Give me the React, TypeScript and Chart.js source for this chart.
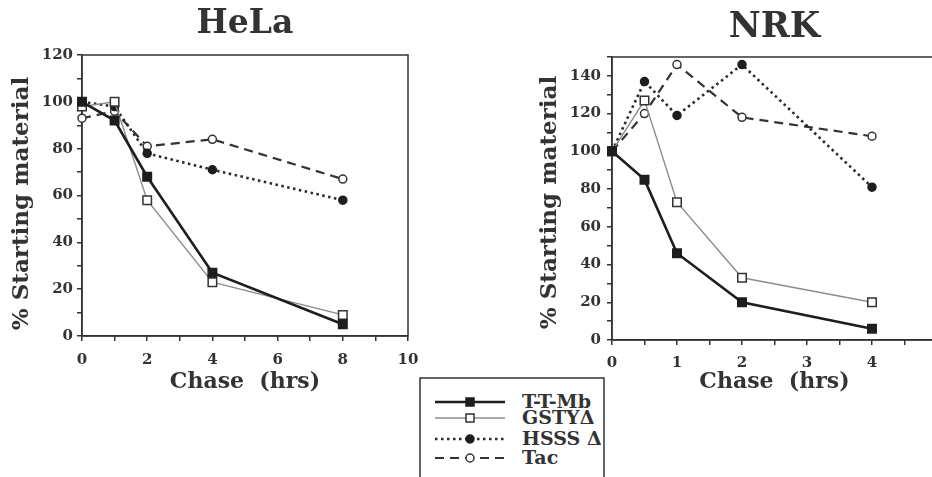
import React, { useEffect, useRef } from 'react';
import { Chart, registerables } from 'chart.js';

Chart.register(...registerables);

const SERIES_NAMES = ['T-T-Mb', 'GSTYΔ', 'HSSS Δ', 'Tac'];

const HELA_HOURS = [0, 1, 2, 4, 8];
const HELA_TTMB = [100, 92, 68, 27, 5];
const HELA_GSTY = [98, 100, 58, 23, 9];
const HELA_HSSS = [100, 98, 78, 71, 58];
const HELA_TAC = [93, 96, 81, 84, 67];

const NRK_HOURS = [0, 0.5, 1, 2, 4];
const NRK_TTMB = [100, 85, 46, 20, 6];
const NRK_GSTY = [100, 127, 73, 33, 20];
const NRK_HSSS = [100, 137, 119, 146, 81];
const NRK_TAC = [100, 120, 146, 118, 108];

const FONT = '"DejaVu Serif", "Liberation Serif", serif';
const INK = '#333';

const STYLES = [
  { color: '#1e1e1e', width: 2.6, dash: [] as number[], point: 'rect', radius: 6, fill: '#1e1e1e', pborder: '#1e1e1e' },
  { color: '#8c8c8c', width: 1.4, dash: [] as number[], point: 'rect', radius: 6, fill: '#ffffff', pborder: '#333' },
  { color: '#2a2a2a', width: 2.6, dash: [2.5, 3.5], point: 'circle', radius: 4, fill: '#1e1e1e', pborder: '#1e1e1e' },
  { color: '#333', width: 2.2, dash: [9, 6], point: 'circle', radius: 4, fill: '#ffffff', pborder: '#333' },
];

const framePlugin = {
  id: 'frame',
  beforeDatasetsDraw(chart: any) {
    const { ctx, chartArea: a } = chart;
    ctx.save();
    ctx.strokeStyle = INK;
    ctx.lineWidth = 1.5;
    ctx.strokeRect(a.left, a.top, a.right - a.left, a.bottom - a.top);
    ctx.restore();
  },
};

function buildDatasets(hours: number[], series: number[][]) {
  return series.map((vals, i) => {
    const s = STYLES[i];
    return {
      label: SERIES_NAMES[i],
      data: vals.map((v, j) => ({ x: hours[j], y: v })),
      borderColor: s.color,
      borderWidth: s.width,
      borderDash: s.dash,
      pointStyle: s.point,
      pointRadius: s.radius,
      pointBackgroundColor: s.fill,
      pointBorderColor: s.pborder,
      pointBorderWidth: 1.5,
      tension: 0,
      clip: false,
    };
  });
}

type Cfg = {
  title: string;
  titleSize: number;
  titlePad: { top: number; bottom: number };
  hours: number[];
  series: number[][];
  xMax: number;
  xStep: number;
  xLabel: (v: number) => string;
  yMax: number;
  yLabel: (v: number) => string;
  yWidth: number;
  xHeight: number;
  rightPad: number;
  yTitle: string;
  yTitlePad: number;
  xTitlePad: number;
  xTickPad: number;
  yTickPad: number;
};

function makeConfig(c: Cfg): any {
  return {
    type: 'line',
    data: { datasets: buildDatasets(c.hours, c.series) },
    plugins: [framePlugin],
    options: {
      responsive: false,
      animation: false,
      layout: { padding: { top: 0, left: 0, bottom: 0, right: c.rightPad } },
      plugins: {
        legend: { display: false },
        tooltip: { enabled: false },
        title: {
          display: true,
          text: c.title,
          fullSize: false,
          color: INK,
          font: { family: FONT, size: c.titleSize, weight: 'bold', lineHeight: 1 },
          padding: c.titlePad,
        },
      },
      scales: {
        x: {
          type: 'linear',
          min: 0,
          max: c.xMax,
          ticks: {
            stepSize: c.xStep,
            autoSkip: false,
            maxRotation: 0,
            padding: c.xTickPad,
            color: INK,
            font: { family: FONT, size: 15, weight: 'bold' },
            callback: (v: any) => c.xLabel(Number(v)),
          },
          grid: { drawOnChartArea: false, tickLength: 5, color: INK, lineWidth: 1.5 },
          border: { display: true, color: INK, width: 1.5 },
          title: {
            display: true,
            text: 'Chase  (hrs)',
            color: INK,
            font: { family: FONT, size: 22, weight: 'bold', lineHeight: 1.2 },
            padding: { top: 0, bottom: c.xTitlePad },
          },
          afterFit: (s: any) => { s.height = c.xHeight; },
        },
        y: {
          type: 'linear',
          min: 0,
          max: c.yMax,
          ticks: {
            stepSize: 10,
            autoSkip: false,
            padding: c.yTickPad,
            color: INK,
            font: { family: FONT, size: 15, weight: 'bold' },
            callback: (v: any) => c.yLabel(Number(v)),
          },
          grid: { drawOnChartArea: false, tickLength: 5, color: INK, lineWidth: 1.5 },
          border: { display: true, color: INK, width: 1.5 },
          title: {
            display: true,
            text: c.yTitle,
            color: INK,
            font: { family: FONT, size: 23, weight: 'bold', lineHeight: 1.2 },
            padding: { top: c.yTitlePad, bottom: 0 },
          },
          afterFit: (s: any) => { s.width = c.yWidth; },
        },
      },
    },
  };
}

function ChartCanvas({ cfg, left, width, height }: { cfg: Cfg; left: number; width: number; height: number }) {
  const ref = useRef<HTMLCanvasElement | null>(null);
  useEffect(() => {
    if (!ref.current) return;
    const chart = new Chart(ref.current, makeConfig(cfg));
    return () => chart.destroy();
  }, []);
  return (
    <canvas
      ref={ref}
      width={width}
      height={height}
      style={{ position: 'absolute', left, top: 0, width, height }}
    />
  );
}

const helaCfg: Cfg = {
  title: 'HeLa',
  titleSize: 33,
  titlePad: { top: 8, bottom: 14 },
  hours: HELA_HOURS,
  series: [HELA_TTMB, HELA_GSTY, HELA_HSSS, HELA_TAC],
  xMax: 10,
  xStep: 1,
  xLabel: (v) => (v % 2 === 0 ? String(v) : ''),
  yMax: 120,
  yLabel: (v) => (v % 20 === 0 ? String(v) : ''),
  yWidth: 82,
  xHeight: 64,
  rightPad: 32,
  yTitle: '% Starting material  ',
  yTitlePad: 8,
  xTitlePad: 5,
  xTickPad: 10,
  yTickPad: 4,
};

const nrkCfg: Cfg = {
  title: 'NRK',
  titleSize: 35,
  titlePad: { top: 10, bottom: 12 },
  hours: NRK_HOURS,
  series: [NRK_TTMB, NRK_GSTY, NRK_HSSS, NRK_TAC],
  xMax: 5,
  xStep: 0.5,
  xLabel: (v) => (Number.isInteger(v) ? String(v) : ''),
  yMax: 150,
  yLabel: (v) => (v % 20 === 0 && v <= 140 ? String(v) : ''),
  yWidth: 92,
  xHeight: 60,
  rightPad: 33,
  yTitle: '% Starting material ',
  yTitlePad: 16,
  xTitlePad: 5,
  xTickPad: 9,
  yTickPad: 6,
};

function Legend() {
  const rows = [25, 41, 62, 81];
  return (
    <svg
      width={186}
      height={110}
      style={{ position: 'absolute', left: 419, top: 377 }}
    >
      <rect x={1} y={1} width={184} height={130} fill="#fff" stroke={INK} strokeWidth={1.5} />
      {SERIES_NAMES.map((name, i) => {
        const s = STYLES[i];
        const y = rows[i];
        return (
          <g key={name}>
            <line
              x1={16}
              x2={86}
              y1={y}
              y2={y}
              stroke={s.color}
              strokeWidth={s.width}
              strokeDasharray={s.dash.length ? s.dash.join(' ') : undefined}
            />
            {s.point === 'rect' ? (
              <rect x={47} y={y - 4} width={8} height={8} fill={s.fill} stroke={s.pborder} strokeWidth={1.5} />
            ) : (
              <circle cx={51} cy={y} r={4} fill={s.fill} stroke={s.pborder} strokeWidth={1.5} />
            )}
            <text
              x={103}
              y={y + 6}
              fontFamily={FONT}
              fontWeight="bold"
              fontSize={19}
              fill={INK}
            >
              {name}
            </text>
          </g>
        );
      })}
    </svg>
  );
}

export default function App() {
  return (
    <div
      style={{
        position: 'fixed',
        left: 0,
        top: 0,
        width: 932,
        height: 477,
        overflow: 'hidden',
        background: '#fff',
      }}
    >
      <ChartCanvas cfg={helaCfg} left={0} width={440} height={400} />
      <ChartCanvas cfg={nrkCfg} left={520} width={450} height={400} />
      <Legend />
    </div>
  );
}
